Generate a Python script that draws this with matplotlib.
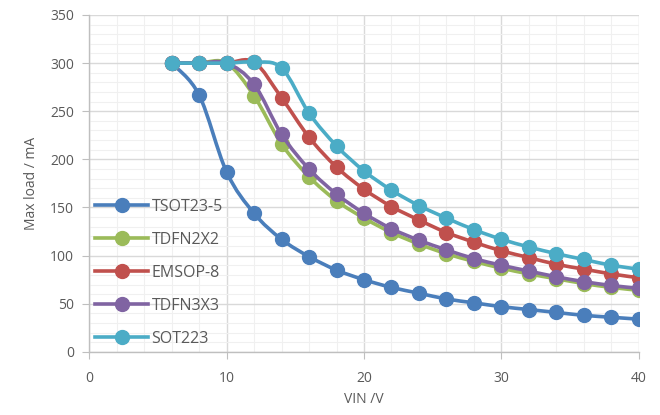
import matplotlib
matplotlib.use("Agg")
import matplotlib.pyplot as plt
import numpy as np
from matplotlib.path import Path
from matplotlib.patches import PathPatch
from matplotlib.lines import Line2D

plt.rcParams['font.family'] = ['Open Sans', 'DejaVu Sans']

vin = [6, 8, 10, 12, 14, 16, 18, 20, 22, 24, 26, 28, 30, 32, 34, 36, 38, 40]
tsot23_5 = [300, 267, 187, 144, 117, 99, 85, 75, 67, 61, 55, 51, 47, 44, 41, 38, 36, 34]
tdfn2x2 = [300, 300, 300, 266, 216, 182, 157, 139, 124, 112, 102, 94, 87, 81, 76, 71, 67, 64]
emsop_8 = [300, 300, 300, 301, 264, 223, 192, 169, 151, 137, 124, 114, 105, 98, 91, 86, 81, 77]
tdfn3x3 = [300, 300, 300, 278, 226, 190, 164, 144, 128, 116, 106, 97, 90, 84, 78, 73, 69, 66]
sot223 = [300, 300, 300, 301, 295, 248, 214, 188, 168, 152, 139, 127, 117, 109, 102, 96, 90, 86]

names = ['TSOT23-5', 'TDFN2X2', 'EMSOP-8', 'TDFN3X3', 'SOT223']
series = [tsot23_5, tdfn2x2, emsop_8, tdfn3x3, sot223]
colors = ['#4A7EBB', '#9BBB59', '#C0504D', '#8064A2', '#4BACC6']


def smooth_path(x, y):
    # bezier path through the points, like excel's smoothed line
    p = np.column_stack([x, y]).astype(float)
    verts = [p[0]]
    codes = [Path.MOVETO]
    n = len(p)
    for i in range(n - 1):
        p0 = p[i - 1] if i > 0 else p[i]
        p3 = p[i + 2] if i + 2 < n else p[i + 1]
        c1 = p[i] + (p[i + 1] - p0) / 6.0
        c2 = p[i + 1] - (p3 - p[i]) / 6.0
        verts += [c1, c2, p[i + 1]]
        codes += [Path.CURVE4] * 3
    return Path(verts, codes)


fig = plt.figure(figsize=(6.6, 4.15), dpi=100)
ax = fig.add_axes([0.135, 0.152, 0.833, 0.812])

handles = []
for k, (name, ys, c) in enumerate(zip(names, series, colors)):
    patch = PathPatch(smooth_path(vin, ys), facecolor='none', edgecolor=c,
                      lw=2.6, zorder=3 + k * 2, capstyle='round')
    ax.add_patch(patch)
    ax.plot(vin, ys, 'o', color=c, ms=10, zorder=4 + k * 2)
    handles.append(Line2D([], [], color=c, lw=2.6, marker='o', ms=10, label=name))

ax.set_xlim(0, 40)
ax.set_ylim(0, 350)
ax.set_xticks(np.arange(0, 41, 10))
ax.set_yticks(np.arange(0, 351, 50))
ax.set_xticks(np.arange(0, 41, 2), minor=True)
ax.set_yticks(np.arange(0, 351, 10), minor=True)
ax.grid(which='major', color='#D9D9D9', lw=1.0, zorder=0)
ax.grid(which='minor', color='#F0F0F0', lw=0.8, zorder=0)
ax.set_axisbelow(True)

for s in ['top', 'right']:
    ax.spines[s].set_visible(False)
for s in ['left', 'bottom']:
    ax.spines[s].set_color('#BFBFBF')
    ax.spines[s].set_linewidth(1.0)
ax.tick_params(which='major', length=5, color='#BFBFBF', labelcolor='#595959',
               labelsize=10)
ax.tick_params(which='minor', length=0)
ax.tick_params(axis='x', pad=9)
ax.tick_params(axis='y', pad=6)

ax.set_xlabel('VIN /V', color='#595959', fontsize=10, labelpad=4)
ax.set_ylabel('Max load / mA', color='#595959', fontsize=10, labelpad=8)

ax.legend(handles=handles, loc='lower left', bbox_to_anchor=(0.0, -0.004),
          frameon=False, fontsize=11.5, labelcolor='#595959', handlelength=3.3,
          handletextpad=0.2, labelspacing=1.07, borderaxespad=0.0)

fig.savefig('out.png', dpi=100)
